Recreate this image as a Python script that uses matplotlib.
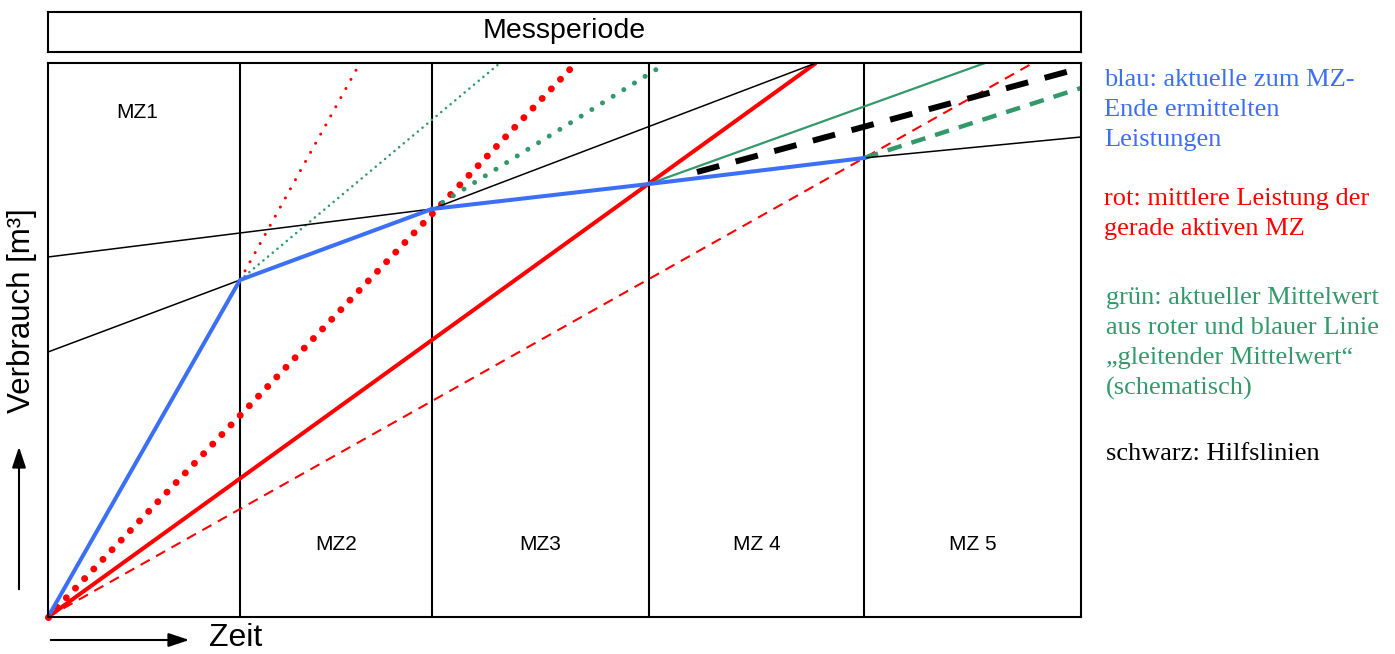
import matplotlib
matplotlib.use("Agg")
import matplotlib.pyplot as plt
from matplotlib.patches import FancyArrowPatch

# schematic values (time / consumption, arbitrary units)
mz_edges = [0, 192, 384, 601, 816, 1033]
mz_labels = ["MZ1", "MZ2", "MZ3", "MZ 4", "MZ 5"]
y_top = 554

blue_t = [0, 192, 384, 601, 816]
blue_v = [0, 337, 408, 433, 459]

helpA_t = [0, 192, 384, 768]
helpA_v = [265, 337, 408, 554]
helpB_t = [0, 384, 601, 816, 1033]
helpB_v = [360, 408, 433, 459, 480]
help_dash_t = [649, 1033]
help_dash_v = [445, 549]

red_t = [0, 768]
red_v = [0, 554]
red_dash_t = [0, 985]
red_dash_v = [0, 554]
red_dot_t = [0, 528]
red_dot_v = [0, 554]
red_dot_thin_t = [192, 312]
red_dot_thin_v = [337, 554]

green_dot_thin_t = [192, 452]
green_dot_thin_v = [337, 554]
green_dot_t = [384, 617]
green_dot_v = [408, 553]
green_t = [601, 937]
green_v = [433, 554]
green_dash_t = [816, 1033]
green_dash_v = [459, 529]

BLUE = "#3b6ff5"
RED = "#ff0000"
GREEN = "#33996a"

fig = plt.figure(figsize=(13.95, 6.54), dpi=100)
W, H = 1395.0, 654.0

ax = fig.add_axes([48 / W, 1 - 617 / H, (1081 - 48) / W, (617 - 63) / H])
ax.set_xlim(mz_edges[0], mz_edges[-1])
ax.set_ylim(0, y_top)
ax.set_xticks([])
ax.set_yticks([])
for s in ax.spines.values():
    s.set_linewidth(1.5)

for e in mz_edges[1:-1]:
    ax.axvline(e, color="black", lw=1.5)

# red
ax.plot(red_dash_t, red_dash_v, color=RED, lw=1.5, ls=(0, (5, 3.5)))
ax.plot(red_t, red_v, color=RED, lw=2.9, solid_capstyle="butt")
ax.plot(red_dot_t, red_dot_v, color=RED, lw=5, ls=(0, (0.01, 1.9)),
        dash_capstyle="round")
ax.plot(red_dot_thin_t, red_dot_thin_v, color=RED, lw=2.2,
        ls=(0, (0.01, 3.4)), dash_capstyle="round")
# green
ax.plot(green_dot_thin_t, green_dot_thin_v, color=GREEN, lw=1.9,
        ls=(0, (0.01, 2.3)), dash_capstyle="round")
ax.plot(green_dot_t, green_dot_v, color=GREEN, lw=3.6,
        ls=(0, (0.01, 2.5)), dash_capstyle="round")
ax.plot(green_t, green_v, color=GREEN, lw=1.6)
ax.plot(green_dash_t, green_dash_v, color=GREEN, lw=3.2, ls=(0, (3.3, 2.3)))
# black helper lines
ax.plot(helpA_t, helpA_v, color="black", lw=1.1)
ax.plot(helpB_t, helpB_v, color="black", lw=1.1)
# blue
ax.plot(blue_t, blue_v, color=BLUE, lw=2.9, solid_joinstyle="round")
ax.plot(help_dash_t, help_dash_v, color="black", lw=4.3, ls=(0, (3.85, 2.85)))
ax.plot([0], [0], "o", color=RED, ms=4, clip_on=False)

# MZ labels
ax.text(89, 505, mz_labels[0], ha="center", va="center", fontsize=15,
        family="Liberation Sans")
for i in range(1, 5):
    xc = (mz_edges[i] + mz_edges[i + 1]) / 2
    ax.text(xc, 72, mz_labels[i], ha="center", va="center", fontsize=15,
            family="Liberation Sans")

# header box
hdr = fig.add_axes([48 / W, 1 - 52 / H, (1081 - 48) / W, 40 / H])
hdr.set_xticks([])
hdr.set_yticks([])
for s in hdr.spines.values():
    s.set_linewidth(1.5)
hdr.text(0.5, 0.52, "Messperiode", ha="center", va="center", fontsize=20.5,
         family="Liberation Sans", transform=hdr.transAxes)

# axis labels & arrows
fig.text(22 / W, 1 - 311 / H, "Verbrauch [m³]", rotation=90, ha="center",
         va="center", fontsize=22.5, family="Liberation Sans")
fig.text(209 / W, 1 - 653 / H, "Zeit", ha="left", va="bottom", fontsize=23,
         family="Liberation Sans")
fig.patches.append(FancyArrowPatch(
    (19 / W, 1 - 592 / H), (19 / W, 1 - 444 / H), transform=fig.transFigure,
    arrowstyle="-|>,head_length=0.9,head_width=0.3", mutation_scale=14,
    color="black", lw=1.5))
fig.patches.append(FancyArrowPatch(
    (48 / W, 1 - 640 / H), (192 / W, 1 - 640 / H), transform=fig.transFigure,
    arrowstyle="-|>,head_length=0.9,head_width=0.3", mutation_scale=14,
    color="black", lw=1.5))

# legend text
serif = "Liberation Serif"
fs = 19
ls_ = 1.46
fig.text(1104 / W, 1 - 69 / H, "blau: aktuelle zum MZ-\nEnde ermittelten\nLeistungen",
         color=BLUE, fontsize=fs, family=serif, va="top", linespacing=ls_)
fig.text(1104 / W, 1 - 188 / H, "rot: mittlere Leistung der\ngerade aktiven MZ",
         color=RED, fontsize=fs, family=serif, va="top", linespacing=ls_)
fig.text(1106 / W, 1 - 287 / H,
         "grün: aktueller Mittelwert\naus roter und blauer Linie\n„gleitender Mittelwert“\n(schematisch)",
         color=GREEN, fontsize=fs, family=serif, va="top", linespacing=ls_)
fig.text(1106 / W, 1 - 443 / H, "schwarz: Hilfslinien", color="black",
         fontsize=fs, family=serif, va="top")

fig.savefig("out.png", dpi=100)
